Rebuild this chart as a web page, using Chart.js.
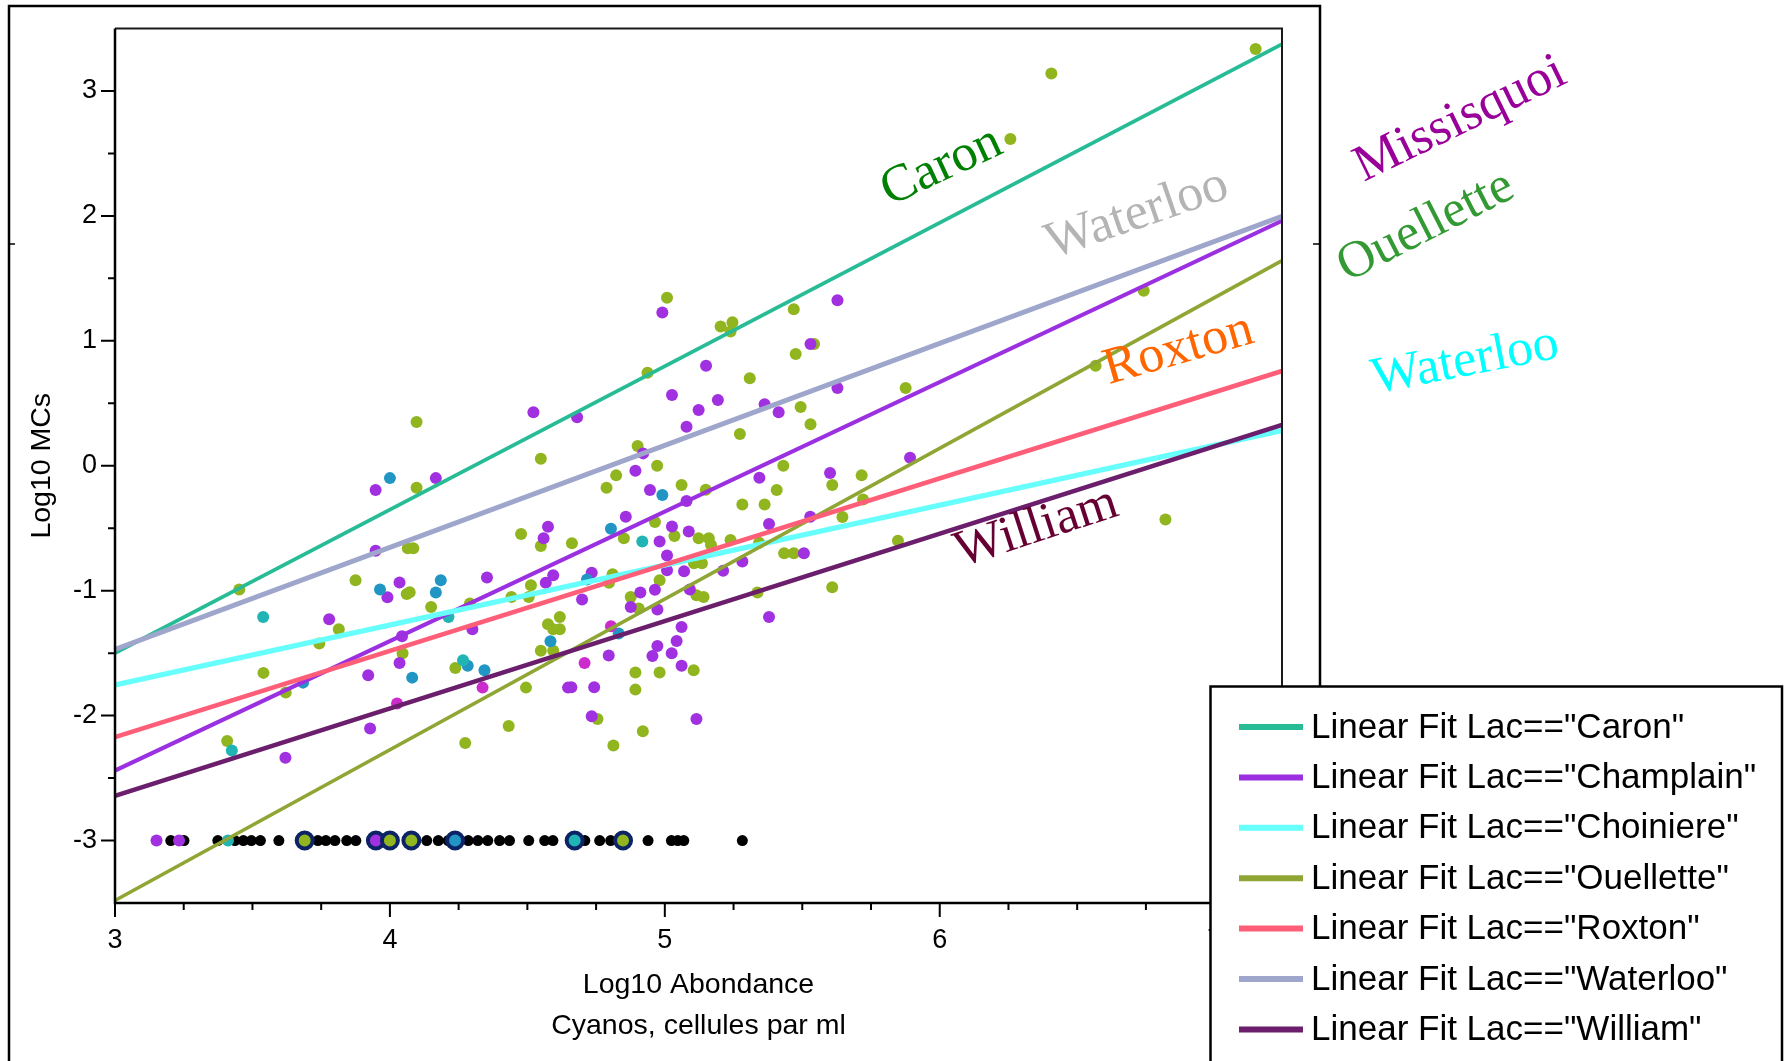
<!DOCTYPE html>
<html>
<head>
<meta charset="utf-8">
<title>Log10 MCs vs Log10 Abondance</title>
<script src="https://cdn.jsdelivr.net/npm/chart.js@4.4.0/dist/chart.umd.min.js"></script>
<style>
  html, body { margin: 0; padding: 0; background: #fff; }
  #wrap { width: 1787px; height: 1061px; overflow: hidden; }
</style>
</head>
<body>
<div id="wrap"><canvas id="scatterChart" width="1787" height="1061"></canvas></div>
<script>
// Axis ticks
const xTicks = [3, 4, 5, 6, 7]
const yTicks = [-3, -2, -1, 0, 1, 2, 3]
const xMinorStep = 0.25
const yMinorStep = 0.5

// Linear fits per lake: value at the left edge and at the right edge
const fitX = [3, 7.245]
const lakes = ["Caron", "Champlain", "Choiniere", "Ouellette", "Roxton", "Waterloo", "William"]
const fitStart = [-1.50, -2.44, -1.755, -3.48, -2.172, -1.47, -2.642]
const fitEnd = [3.375, 1.96, 0.282, 1.642, 0.759, 1.997, 0.328]
const fitColors = ["#27bc95", "#9b30e0", "#66fffb", "#8fa634", "#ff5e78", "#9ea6cc", "#6a1e6b"]
const fitWidths = [3.8, 4, 5.2, 3.7, 4.7, 5, 4.5]

// Samples (Log10 Abondance, Log10 MCs)
const greenPts = [
  [7.149, 3.336], [6.406, 3.139], [6.257, 2.615], [6.742, 1.40], [6.567, 0.80], [6.821, -0.43],
  [5.008, 1.344], [5.203, 1.114], [5.246, 1.149], [5.239, 1.074], [5.469, 1.253], [5.476, 0.895],
  [5.543, 0.975], [5.309, 0.70], [4.937, 0.745], [5.876, 0.623], [5.494, 0.47], [5.530, 0.332],
  [5.273, 0.254], [4.901, 0.158], [4.972, 0.0], [4.823, -0.077], [4.788, -0.176], [5.061, -0.155],
  [5.149, -0.192], [5.431, 0.0], [5.407, -0.195], [5.716, -0.077], [5.609, -0.155], [5.282, -0.31],
  [5.363, -0.31], [5.721, -0.27], [5.646, -0.41], [4.964, -0.45], [4.851, -0.58], [5.035, -0.563],
  [5.123, -0.58], [5.160, -0.58], [5.168, -0.635], [5.239, -0.595], [5.343, -0.617], [5.848, -0.60],
  [5.434, -0.70], [5.469, -0.70], [4.662, -0.62], [5.106, -0.78], [5.135, -0.78], [4.097, 0.35],
  [4.549, 0.056], [4.097, -0.176], [4.065, -0.66], [4.085, -0.66], [4.477, -0.547], [4.549, -0.643],
  [4.797, -0.937], [4.81, -0.868], [4.981, -0.916], [4.876, -1.05], [4.905, -1.143], [5.115, -1.036],
  [5.141, -1.05], [5.337, -1.015], [5.609, -0.972], [5.105, -1.637], [4.893, -1.655], [4.981, -1.655],
  [4.893, -1.792], [4.755, -2.027], [4.92, -2.126], [4.813, -2.24], [3.452, -0.99], [3.875, -0.916],
  [4.061, -1.026], [4.072, -1.012], [4.15, -1.13], [4.513, -0.956], [4.442, -1.05], [4.505, -1.05],
  [3.814, -1.308], [3.743, -1.423], [4.291, -1.103], [4.575, -1.268], [4.618, -1.21], [4.594, -1.308],
  [4.618, -1.308], [4.549, -1.48], [4.594, -1.48], [3.540, -1.658], [4.046, -1.50], [4.238, -1.618],
  [4.495, -1.776], [3.621, -1.816], [4.432, -2.083], [4.274, -2.22], [3.408, -2.203]
]
const purplePts = [
  [4.522, 0.428], [3.948, -0.195], [4.167, -0.099], [3.948, -0.68], [4.575, -0.489], [4.559, -0.58],
  [5.628, 1.325], [5.150, 0.80], [5.026, 0.566], [5.193, 0.526], [5.123, 0.446], [5.079, 0.313],
  [5.363, 0.492], [5.414, 0.428], [5.628, 0.623], [4.681, 0.388], [4.921, 0.099], [4.893, -0.04],
  [4.946, -0.195], [5.079, -0.283], [5.344, -0.096], [5.601, -0.058], [5.892, 0.064], [4.858, -0.409],
  [4.981, -0.606], [5.026, -0.486], [5.087, -0.526], [5.379, -0.467], [5.529, -0.409], [5.506, -0.70],
  [5.008, -0.718], [5.282, -0.766], [4.991, 1.226], [5.530, 0.975], [4.734, -0.857], [5.008, -0.836],
  [5.07, -0.844], [5.212, -0.84], [4.699, -1.071], [4.911, -1.015], [4.964, -0.993], [4.876, -1.13],
  [4.973, -1.151], [5.091, -0.99], [5.379, -1.21], [5.061, -1.29], [5.043, -1.402], [4.973, -1.442],
  [4.955, -1.522], [5.025, -1.501], [4.796, -1.519], [5.061, -1.60], [4.66, -1.773], [4.743, -1.773],
  [4.734, -2.006], [5.115, -2.027], [3.991, -1.052], [4.035, -0.934], [4.353, -0.894], [4.567, -0.937],
  [4.594, -0.876], [3.779, -1.228], [4.044, -1.365], [4.30, -1.308], [4.035, -1.578], [3.921, -1.677],
  [4.648, -1.776], [3.928, -2.104], [3.620, -2.337], [3.151, -3], [3.233, -3]
]
const bluePts = [
  [4.0, -0.099], [4.991, -0.235], [4.804, -0.505], [4.717, -0.91], [4.832, -1.343], [3.964, -0.99],
  [4.185, -0.916], [4.167, -1.015], [4.584, -1.405], [4.081, -1.696], [4.283, -1.60], [4.344, -1.637],
  [3.684, -1.736]
]
const tealPts = [[4.918, -0.606], [3.539, -1.21], [4.213, -1.21], [4.266, -1.557], [3.425, -2.28], [3.411, -3]]
const magentaPts = [[4.804, -1.285], [4.708, -1.578], [4.337, -1.776], [4.026, -1.904]]

// Samples below detection, all at Log10 MCs = -3
const floorY = -3
const blackX = [
  3.203, 3.251, 3.374, 3.436, 3.467, 3.496, 3.529, 3.596, 3.738, 3.767, 3.800, 3.843, 3.876,
  4.134, 4.176, 4.212, 4.285, 4.320, 4.356, 4.399, 4.435, 4.505, 4.563, 4.593, 4.709, 4.763,
  4.803, 4.939, 5.024, 5.047, 5.069, 5.282
]
const ringX = [3.690, 3.949, 4.000, 4.078, 4.237, 4.672, 4.848]
const ringFill = ["#91b51e", "#a030e0", "#91b51e", "#91b51e", "#2196c4", "#20b4b4", "#91b51e"]

// Lake names written along the fits
const annoText = ["Caron", "Waterloo", "Roxton", "William", "Missisquoi", "Ouellette", "Waterloo"]
const annoColor = ["#008000", "#b4b4b4", "#ff6600", "#660033", "#990099", "#339933", "#00ffff"]
const annoX = [6.007, 6.718, 6.869, 6.352, 7.894, 7.769, 7.912]
const annoY = [2.393, 2.009, 0.927, -0.498, 2.770, 1.913, 0.831]
const annoAngle = [-25, -19, -16, -18, -26, -27, -11]

const sansFont = "'Liberation Sans', Arial, Helvetica, sans-serif"
const serifFont = "'Liberation Serif', 'Times New Roman', serif"

function toPoints(list) {
  return list.map((p) => ({ x: p[0], y: p[1] }))
}

function scatterSet(list, color, order) {
  return {
    data: toPoints(list),
    backgroundColor: color,
    pointRadius: 6,
    pointBorderWidth: 0,
    pointHoverRadius: 6,
    order: order,
  }
}

// Build datasets: fits on top, then ringed points, coloured points, black points
const datasets = []
lakes.forEach((lake, i) => {
  datasets.push({
    label: 'Linear Fit Lac=="' + lake + '"',
    data: [{ x: fitX[0], y: fitStart[i] }, { x: fitX[1], y: fitEnd[i] }],
    showLine: true,
    borderColor: fitColors[i],
    borderWidth: fitWidths[i],
    pointRadius: 0,
    order: -i,
  })
})
datasets.push({
  data: ringX.map((x) => ({ x: x, y: floorY })),
  pointBackgroundColor: ringFill,
  pointBorderColor: "#0c2466",
  pointBorderWidth: 4,
  pointRadius: 8,
  order: 5,
})
datasets.push(scatterSet(magentaPts, "#cc2ccc", 6))
datasets.push(scatterSet(tealPts, "#20b4b4", 7))
datasets.push(scatterSet(bluePts, "#2196c4", 8))
datasets.push(scatterSet(purplePts, "#a030e0", 9))
datasets.push(scatterSet(greenPts, "#91b51e", 10))
datasets.push({
  data: blackX.map((x) => ({ x: x, y: floorY })),
  backgroundColor: "#000",
  pointRadius: 5.5,
  pointBorderWidth: 0,
  order: 11,
})

// White page and outer frame
const framePlugin = {
  id: "outerFrame",
  beforeDraw(chart) {
    const ctx = chart.ctx
    ctx.save()
    ctx.fillStyle = "#fff"
    ctx.fillRect(0, 0, chart.width, chart.height)
    ctx.strokeStyle = "#000"
    ctx.lineWidth = 2.5
    ctx.strokeRect(9, 6, 1311, 1100)
    ctx.lineWidth = 1.5
    ctx.beginPath()
    ctx.moveTo(9, 244)
    ctx.lineTo(15, 244)
    ctx.moveTo(1320, 244)
    ctx.lineTo(1313, 244)
    ctx.stroke()
    ctx.restore()
  },
}

// Axis lines, border and major / minor tick marks
const axesPlugin = {
  id: "axesTicks",
  afterDatasetsDraw(chart) {
    const { ctx, chartArea: a, scales } = chart
    const xs = scales.x
    const ys = scales.y
    ctx.save()
    ctx.strokeStyle = "#1a1a1a"
    ctx.lineWidth = 2
    ctx.beginPath()
    ctx.moveTo(a.left, a.top)
    ctx.lineTo(a.right, a.top)
    ctx.lineTo(a.right, a.bottom)
    ctx.stroke()

    ctx.strokeStyle = "#000"
    ctx.lineWidth = 2.5
    ctx.beginPath()
    ctx.moveTo(a.left, a.top)
    ctx.lineTo(a.left, a.bottom)
    ctx.lineTo(a.right, a.bottom)
    ctx.stroke()

    ctx.lineWidth = 2
    ctx.beginPath()
    for (let i = 0; xs.min + i * xMinorStep <= xs.max; i++) {
      const v = xs.min + i * xMinorStep
      const px = xs.getPixelForValue(v)
      const len = Number.isInteger(v) ? 14 : 7
      ctx.moveTo(px, a.bottom)
      ctx.lineTo(px, a.bottom + len)
    }
    for (let i = 1; ys.min + i * yMinorStep < ys.max; i++) {
      const v = ys.min + i * yMinorStep
      const py = ys.getPixelForValue(v)
      const len = Number.isInteger(v) ? 14 : 7
      ctx.moveTo(a.left, py)
      ctx.lineTo(a.left - len, py)
    }
    ctx.stroke()
    ctx.restore()
  },
}

// Rotated lake names placed in data coordinates
const annotationPlugin = {
  id: "lakeNames",
  afterDraw(chart) {
    const { ctx, scales } = chart
    ctx.save()
    ctx.font = "52px " + serifFont
    ctx.textAlign = "center"
    ctx.textBaseline = "middle"
    annoText.forEach((t, i) => {
      const px = scales.x.getPixelForValue(annoX[i])
      const py = scales.y.getPixelForValue(annoY[i])
      ctx.save()
      ctx.translate(px, py)
      ctx.rotate((annoAngle[i] * Math.PI) / 180)
      ctx.fillStyle = annoColor[i]
      ctx.fillText(t, 0, 0)
      ctx.restore()
    })
    ctx.restore()
  },
}

// Boxed legend in the lower right corner
const legendPlugin = {
  id: "fitLegend",
  afterDraw(chart) {
    const ctx = chart.ctx
    const box = { left: 1210.5, top: 686.5, right: 1782 }
    ctx.save()
    ctx.fillStyle = "#fff"
    ctx.fillRect(box.left, box.top, box.right - box.left, 400)
    ctx.strokeStyle = "#000"
    ctx.lineWidth = 2.5
    ctx.strokeRect(box.left, box.top, box.right - box.left, 400)
    ctx.font = "35px " + sansFont
    ctx.textBaseline = "middle"
    ctx.fillStyle = "#000"
    lakes.forEach((lake, i) => {
      const y = 727 + i * 50.4
      ctx.strokeStyle = fitColors[i]
      ctx.lineWidth = 6
      ctx.beginPath()
      ctx.moveTo(1239, y)
      ctx.lineTo(1303, y)
      ctx.stroke()
      ctx.fillText('Linear Fit Lac=="' + lake + '"', 1311, y + 1)
    })
    ctx.restore()
  },
}

const ctx = document.getElementById("scatterChart").getContext("2d")
new Chart(ctx, {
  type: "scatter",
  data: { datasets },
  options: {
    responsive: false,
    animation: false,
    devicePixelRatio: 1,
    layout: { padding: { left: 0, top: 28.5, right: 505, bottom: 0 } },
    plugins: {
      legend: { display: false },
      tooltip: { enabled: false },
    },
    scales: {
      x: {
        type: "linear",
        min: fitX[0],
        max: fitX[1],
        afterFit: (s) => {
          s.height = 158
        },
        afterBuildTicks: (s) => {
          s.ticks = xTicks.map((v) => ({ value: v }))
        },
        grid: { drawOnChartArea: false, color: "rgba(0,0,0,0)", tickLength: 14 },
        border: { display: false },
        ticks: { color: "#000", font: { family: sansFont, size: 27 }, padding: 7, maxRotation: 0 },
        title: {
          display: true,
          text: ["Log10 Abondance", "Cyanos, cellules par ml"],
          color: "#000",
          font: { family: sansFont, size: 28.5, lineHeight: 1.44 },
          padding: { top: 0, bottom: 14 },
        },
      },
      y: {
        type: "linear",
        min: -3.5,
        max: 3.5,
        afterFit: (s) => {
          s.width = 115
        },
        afterBuildTicks: (s) => {
          s.ticks = yTicks.map((v) => ({ value: v }))
        },
        grid: { drawOnChartArea: false, color: "rgba(0,0,0,0)", tickLength: 14 },
        border: { display: false },
        ticks: { color: "#000", font: { family: sansFont, size: 27 }, padding: 4 },
        title: {
          display: true,
          text: "Log10 MCs",
          color: "#000",
          font: { family: sansFont, size: 28.5, lineHeight: 1.2 },
          padding: { top: 25, bottom: 0 },
        },
      },
    },
  },
  plugins: [framePlugin, axesPlugin, annotationPlugin, legendPlugin],
})
</script>
</body>
</html>
